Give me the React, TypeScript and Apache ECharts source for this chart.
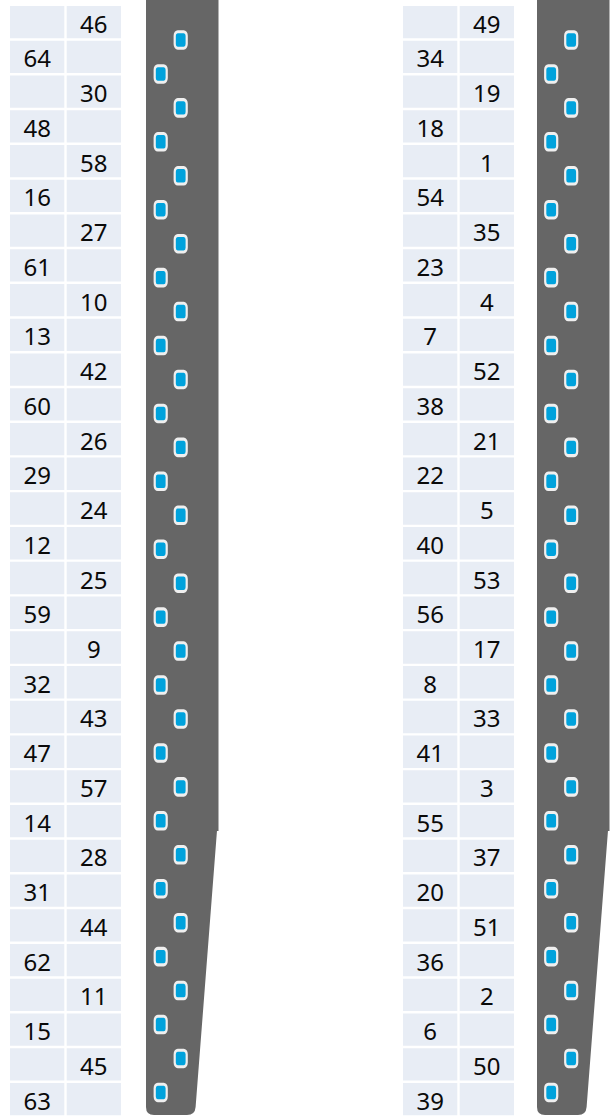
import React, { useEffect, useRef } from "react";
import * as echarts from "echarts";

// Pin numbers, read top to bottom
const leftOddRows = [64, 48, 16, 61, 13, 60, 29, 12, 59, 32, 47, 14, 31, 62, 15, 63]; // first column
const leftEvenRows = [46, 30, 58, 27, 10, 42, 26, 24, 25, 9, 43, 57, 28, 44, 11, 45]; // second column
const rightOddRows = [34, 18, 54, 23, 7, 38, 22, 40, 56, 8, 41, 55, 20, 36, 6, 39];
const rightEvenRows = [49, 19, 1, 35, 4, 52, 21, 5, 53, 17, 33, 3, 37, 51, 2, 50];

const ROWS = 32;
const rowCats = Array.from({ length: ROWS }, (_, i) => String(i));
const colCats = ["a", "b"];

const CELL = "#e8edf5";
const STRIP = "#666666";
const PIN = "#00a2dc";
const PIN_BORDER = "#efefef";

function buildCells(odd: number[], even: number[]) {
  const out: [number, number, string][] = [];
  for (let r = 0; r < ROWS; r++) {
    const half = Math.floor(r / 2);
    if (r % 2 === 0) {
      out.push([0, r, ""]);
      out.push([1, r, String(even[half])]);
    } else {
      out.push([0, r, String(odd[half])]);
      out.push([1, r, ""]);
    }
  }
  return out;
}

function buildPins() {
  const out: [number, number][] = [];
  for (let r = 0; r < ROWS; r++) out.push([r % 2 === 0 ? 1 : 0, r]);
  return out;
}

const stripPath =
  "M146,-4 L218.5,-4 L218.5,831 L146,831 Z " +
  "M146,830.5 L217,830.5 L195.6,1107 Q195,1115 187,1115 L154,1115 Q146,1115 146,1107 Z";

let registered = false;

export default function App() {
  const ref = useRef<HTMLDivElement>(null);
  useEffect(() => {
    if (!ref.current) return;
    if (!registered) {
      echarts.graphic.registerShape("strip", echarts.graphic.extendPath(stripPath, {}));
      registered = true;
    }
    const chart = echarts.init(ref.current, null, { renderer: "svg" });

    const leftCells = buildCells(leftOddRows, leftEvenRows);
    const rightCells = buildCells(rightOddRows, rightEvenRows);
    const pins = buildPins();

    const tableGrid = (left: number) => ({ left, top: 4.8, width: 113.4, height: 34.74 * ROWS });
    const pinGrid = (left: number) => ({ left, top: 23, height: 1086.4, width: 40 });

    const grids = [tableGrid(8.8), pinGrid(150.7), tableGrid(401.8), pinGrid(541.2)];

    const makeCellSeries = (cells: [number, number, string][], axisIndex: number) => ({
      type: "custom",
      xAxisIndex: axisIndex,
      yAxisIndex: axisIndex,
      data: cells.map((c) => [c[0], c[1]]),
      renderItem: (params: any, api: any) => {
        const c = api.value(0);
        const r = api.value(1);
        const p = api.coord([c, r]);
        const s = api.size([1, 1]);
        const w = s[0] - 2.4;
        const h = s[1] - 2.4;
        const label = cells[params.dataIndex][2];
        return {
          type: "group",
          children: [
            {
              type: "rect",
              shape: { x: p[0] - w / 2, y: p[1] - h / 2, width: w, height: h },
              style: { fill: CELL },
            },
            {
              type: "text",
              style: {
                text: label,
                x: p[0],
                y: p[1] + 1,
                align: "center",
                verticalAlign: "middle",
                fontFamily: "Noto Sans",
                fontSize: 24,
                fill: "#0a0a0a",
              },
            },
          ],
        };
      },
    });

    const makePinSeries = (axisIndex: number) => ({
      type: "scatter",
      xAxisIndex: axisIndex,
      yAxisIndex: axisIndex,
      data: pins,
      symbol: "roundRect",
      symbolSize: [12, 16.5],
      itemStyle: { color: PIN, borderColor: PIN_BORDER, borderWidth: 2.6, opacity: 1 },
      emphasis: { disabled: true },
      z: 5,
    });

    chart.setOption({
      animation: false,
      grid: grids,
      xAxis: grids.map((_, i) => ({ type: "category", data: colCats, gridIndex: i, show: false })),
      yAxis: grids.map((_, i) => ({
        type: "category",
        data: rowCats,
        gridIndex: i,
        inverse: true,
        show: false,
      })),
      graphic: [
        { type: "strip", x: 0, y: 0, style: { fill: STRIP }, z: 0 },
        { type: "strip", x: 391, y: 0, style: { fill: STRIP }, z: 0 },
      ],
      series: [
        makeCellSeries(leftCells, 0),
        makePinSeries(1),
        makeCellSeries(rightCells, 2),
        makePinSeries(3),
      ],
    });
    return () => chart.dispose();
  }, []);
  return (
    <div
      ref={ref}
      style={{ position: "absolute", left: 0, top: 0, width: 613, height: 1117, background: "#ffffff" }}
    />
  );
}
